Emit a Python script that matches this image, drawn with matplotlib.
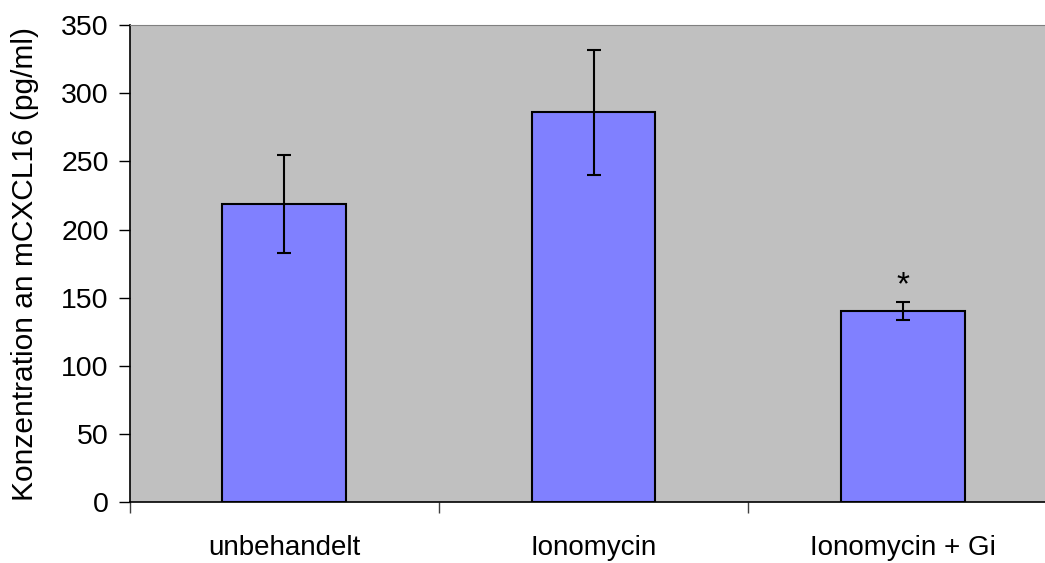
import matplotlib
matplotlib.use("Agg")
import matplotlib.pyplot as plt

plt.rcParams['font.family'] = ['Liberation Sans', 'DejaVu Sans']

# data
groups = ['unbehandelt', 'Ionomycin', 'Ionomycin + Gi']
means = [219, 286, 140]
errors = [36, 46, 6.5]
marks = ['', '', '*']

fig = plt.figure(figsize=(10.45, 5.63), dpi=100)
ax = fig.add_axes([0.124, 0.1083, 0.888, 0.847])
ax.set_facecolor('#C0C0C0')

pos = [i + 0.5 for i in range(len(groups))]
ax.bar(pos, means, width=0.4, color='#8080FF', edgecolor='black', linewidth=1.5,
       zorder=2)
ax.errorbar(pos, means, yerr=errors, fmt='none', ecolor='black', elinewidth=1.5,
            capsize=5, capthick=1.5, zorder=3)
for p, m, e, s in zip(pos, means, errors, marks):
    if s:
        ax.text(p, m + e + 1, s, ha='center', va='bottom', fontsize=24)

ax.set_xlim(0, 3)
ax.set_ylim(0, 350)
ax.set_yticks(range(0, 351, 50))
ax.set_xticks([0, 1, 2, 3])
ax.set_xticklabels([])
ax.set_xticks(pos, minor=True)
ax.set_xticklabels(groups, minor=True, fontsize=20)
ax.tick_params(axis='x', which='minor', length=0, pad=24)
ax.tick_params(axis='x', which='major', length=8, width=1, color='#404040')
ax.tick_params(axis='y', labelsize=20.5, length=8, width=1, pad=7)

ax.spines['top'].set_color('#808080')
ax.spines['right'].set_visible(False)
ax.spines['left'].set_linewidth(1.2)
ax.spines['bottom'].set_linewidth(1.2)

ax.set_ylabel('Konzentration an mCXCL16 (pg/ml)', fontsize=21.5, labelpad=16)

fig.savefig('out.png', dpi=100)
